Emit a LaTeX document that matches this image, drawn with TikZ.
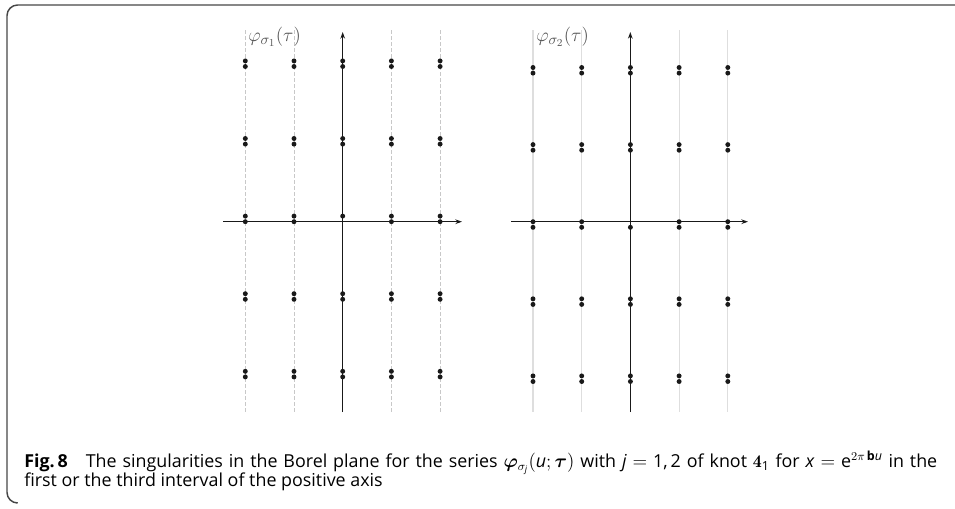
\documentclass[tikz,border=0pt]{standalone}
\usepackage{amsmath}
\usepackage{amssymb}
\usepackage{bm}
\usepackage{xcolor}
\usepackage{fontspec}
\setsansfont{Open Sans}
\usepackage{tikz}
\usetikzlibrary{arrows.meta}
\definecolor{ink}{RGB}{25,25,25}
\definecolor{rim}{RGB}{70,70,70}
\definecolor{grid}{RGB}{200,200,200}
\definecolor{gridlt}{RGB}{222,222,222}
\definecolor{lbl}{RGB}{85,85,85}

\begin{document}
\begin{tikzpicture}[x=0.75pt,y=-0.75pt,
  ax/.style={-{Stealth[length=5pt,width=3.5pt]},line width=1pt,color=ink},
  gd/.style={color=grid,line width=0.6pt,dash pattern=on 3pt off 1.5pt},
  gs/.style={color=gridlt,line width=0.8pt},
  lab/.style={anchor=west,inner sep=0pt,text=lbl,font=\fontsize{15.5}{17}\selectfont},
  captxt/.style={anchor=base west,inner sep=0pt,font=\sffamily\fontsize{13.4}{16}\selectfont}]
  \useasboundingbox (0,0) rectangle (955,508);
  % frame
  \draw[rim,line width=1.1pt,rounded corners=8pt] (16,503) -- (7,503) -- (7,5) -- (955,5);
  % left plane
  \foreach \c in {0,1,3,4}
    \draw[gd] (245.3+48.7*\c,30) -- (245.3+48.7*\c,412);
  \draw[ax] (223,221.7) -- (462,221.7);
  \draw[ax] (342.7,412) -- (342.7,32);
  \foreach \c in {0,...,4}
    \foreach \r in {-2,...,2} {
      \fill[ink] (245.3+48.7*\c,216.1+77.6*\r) circle (1.85pt);
      \ifnum\r=0 \ifnum\c=2 \else
        \fill[ink] (245.3+48.7*\c,221.7+77.6*\r) circle (1.85pt);
      \fi \else
        \fill[ink] (245.3+48.7*\c,221.7+77.6*\r) circle (1.85pt);
      \fi
    }
  \node[lab] (phione) at (248,37) {$\varphi_{\sigma_1}(\tau)$};
  % right plane
  \foreach \c in {0,1,3,4}
    \draw[gs] (533+48.7*\c,30) -- (533+48.7*\c,412);
  \draw[ax] (511,221.7) -- (748,221.7);
  \draw[ax] (630.3,412) -- (630.3,32);
  \foreach \c in {0,...,4}
    \foreach \r in {-2,...,2} {
      \fill[ink] (533+48.7*\c,227.3+77.1*\r) circle (1.85pt);
      \ifnum\r=0 \ifnum\c=2 \else
        \fill[ink] (533+48.7*\c,221.7+77.1*\r) circle (1.85pt);
      \fi \else
        \fill[ink] (533+48.7*\c,221.7+77.1*\r) circle (1.85pt);
      \fi
    }
  \node[lab] (phitwo) at (536,37) {$\varphi_{\sigma_2}(\tau)$};
  % caption
  \node[captxt] (capa) at (24,467.3) {\makebox[684.75pt][s]{\textbf{Fig.\,8}\quad The singularities in the Borel plane for the series $\bm{\varphi}_{\sigma_{\textit{j}}}(\textit{u};\bm{\tau})$ with \textit{j} $=$ 1,\,2 of knot $\mathbf{4}_{\text{1}}$ for \textit{x} $=$ e$^{2\pi\,\textsf{\textbf{b}}\textit{u}}$ in the}};
  \node[captxt] (capb) at (24,486.7) {first or the third interval of the positive axis};
\end{tikzpicture}
\end{document}
